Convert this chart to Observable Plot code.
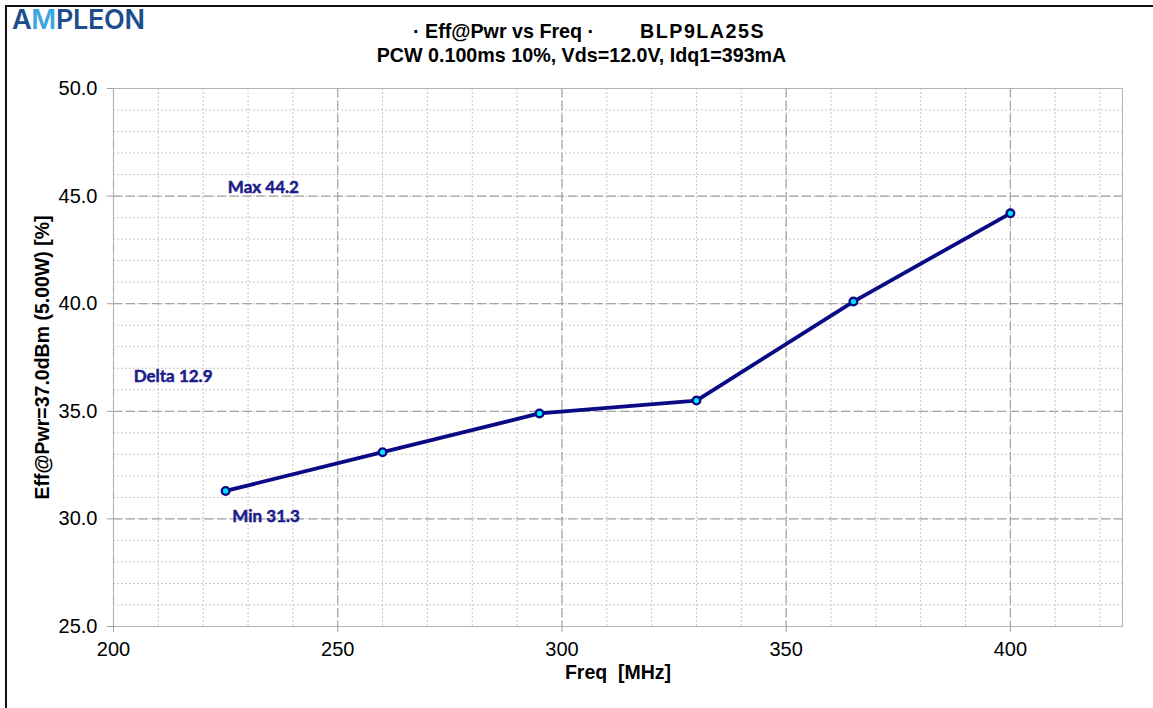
<!DOCTYPE html>
<html>
<head>
<meta charset="utf-8">
<script src="https://cdn.jsdelivr.net/npm/d3@7"></script>
<script src="https://cdn.jsdelivr.net/npm/@observablehq/plot@0.6"></script>
<style>
  body { margin: 0; background: #fff; }
  #page { position: relative; width: 1153px; height: 708px; overflow: hidden; background: #fff;
          font-family: "Liberation Sans", Arial, sans-serif; }
  #frame { position: absolute; left: 5px; top: 5px; width: 1200px; height: 760px;
           border-left: 2px solid #111; border-top: 2px solid #111; pointer-events: none; }
  #header { position: relative; height: 70px; }
  #logo { position: absolute; left: 12px; top: 3px; font-family: Inter, "Open Sans", sans-serif;
          font-size: 27px; font-weight: 600; letter-spacing: -0.3px; color: #1c4d8c; }
  #logo .m { color: #3aa8e0; }
  .title { position: absolute; font-weight: bold; font-size: 19.7px; white-space: pre; color: #000; }
  #chart svg { display: block; }
</style>
</head>
<body>
<div id="page">
  <div id="header">
    <div id="logo">A<span class="m">M</span>PLEON</div>
    <div class="title" style="left:413px; top:20px;">· Eff@Pwr vs Freq ·</div>
    <div class="title" style="left:640px; top:20px; letter-spacing:1.5px;">BLP9LA25S</div>
    <div class="title" style="left:0; width:1163px; text-align:center; top:44px;">PCW 0.100ms 10%, Vds=12.0V, Idq1=393mA</div>
  </div>
  <div id="chart"></div>
  <div id="frame"></div>
</div>
<script>
// Frequency sweep of drain efficiency at 37.0 dBm output
const freqs = [225, 260, 295, 330, 365, 400];        // MHz
const effValues = [31.3, 33.1, 34.9, 35.5, 40.1, 44.2]; // %
const xTicks = [200, 250, 300, 350, 400];
const yTicks = [25, 30, 35, 40, 45, 50];
const xMinor = d3.range(200, 426, 10);
const yMinor = d3.range(25, 51, 1);

const rows = freqs.map((f, i) => ({freq: f, eff: effValues[i]}));

const effMax = d3.max(effValues);
const effMin = d3.min(effValues);
const effDelta = effMax - effMin;

const navy = "#0a0a84";
const noteColor = "#1c1c8a";
const noteStyle = {textAnchor: "start", fill: noteColor, stroke: noteColor, strokeWidth: 0.5,
                   fontWeight: "bold", fontSize: 17, fontFamily: "Lato, 'Open Sans', sans-serif"};

const chart = Plot.plot({
  width: 1153,
  height: 638,
  marginLeft: 113,
  marginRight: 31,
  marginTop: 18,
  marginBottom: 82,
  x: {domain: [200, 425]},
  y: {domain: [25, 50]},
  style: {fontFamily: "'Liberation Sans', Arial, sans-serif", fontSize: "20px", color: "#000", background: "transparent"},
  marks: [
    Plot.gridX(xMinor, {stroke: "#c6c6c6", strokeOpacity: 1, strokeDasharray: "2,2"}),
    Plot.gridY(yMinor, {stroke: "#c6c6c6", strokeOpacity: 1, strokeDasharray: "2,2"}),
    Plot.gridX(xTicks, {stroke: "#a4a4a4", strokeOpacity: 1, strokeDasharray: "9,4", strokeWidth: 1.2}),
    Plot.gridY(yTicks, {stroke: "#a4a4a4", strokeOpacity: 1, strokeDasharray: "9,4", strokeWidth: 1.2}),
    Plot.frame({stroke: "#b4b4b4"}),
    Plot.axisX(xTicks, {tickSize: 6, tickPadding: 9, stroke: "#a0a0a0", fill: "#000", label: null}),
    Plot.axisY(yTicks, {tickSize: 6, tickPadding: 10, stroke: "#a0a0a0", fill: "#000", label: null,
                        tickFormat: d3.format(".1f")}),
    Plot.text(["Freq  [MHz]"], {frameAnchor: "bottom", dy: 52, fontWeight: "bold", fontSize: 19.5, fill: "#000"}),
    Plot.text(["Eff@Pwr=37.0dBm (5.00W) [%]"], {frameAnchor: "left", textAnchor: "middle", dx: -71, rotate: -90,
                                                fontWeight: "bold", fontSize: 19.5, fill: "#000"}),
    Plot.line(rows, {x: "freq", y: "eff", stroke: navy, strokeWidth: 3.8}),
    Plot.dot(rows, {x: "freq", y: "eff", r: 3.8, fill: "#00e6ff", stroke: navy, strokeWidth: 2.4}),
    Plot.text([`Max ${effMax.toFixed(1)}`], {x: 225.5, y: 45.4, ...noteStyle}),
    Plot.text([`Delta ${effDelta.toFixed(1)}`], {x: 204.5, y: 36.6, ...noteStyle}),
    Plot.text([`Min ${effMin.toFixed(1)}`], {x: 226.5, y: 30.1, ...noteStyle})
  ]
});
document.getElementById("chart").appendChild(chart);
</script>
</body>
</html>
